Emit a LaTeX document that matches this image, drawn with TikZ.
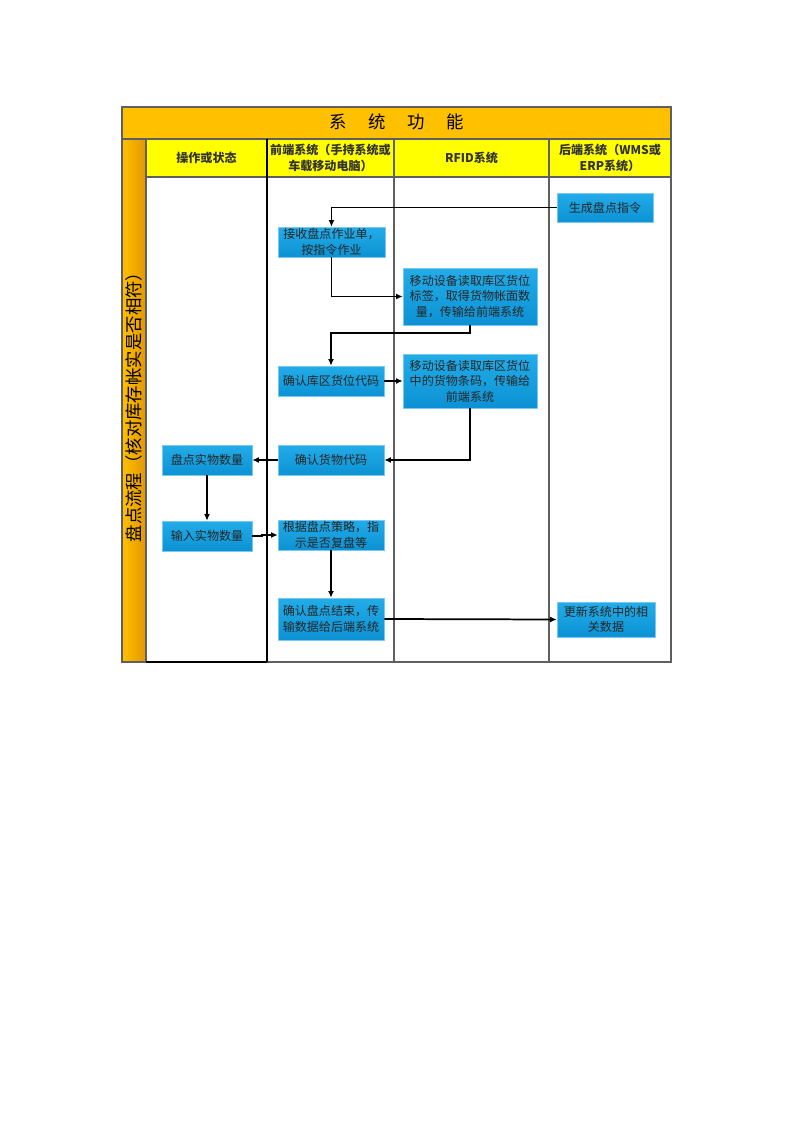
\documentclass[tikz,border=0pt]{standalone}
\usepackage{fontspec}
\setmainfont{Noto Sans CJK SC}
\usetikzlibrary{positioning, arrows.meta}
\definecolor{titlegold}{RGB}{255,192,0}
\definecolor{bandorange}{RGB}{226,150,0}
\definecolor{hdryellow}{RGB}{255,255,0}
\definecolor{boxtop}{RGB}{34,172,232}
\definecolor{boxbottom}{RGB}{12,146,212}
\definecolor{boxedge}{RGB}{120,200,240}
\definecolor{gridgray}{RGB}{95,95,95}

\begin{document}
\begin{tikzpicture}[x=0.02625cm, y=-0.02625cm, >={Latex[length=5pt,width=4.5pt]},
  pbox/.style={draw=boxedge, top color=boxtop, bottom color=boxbottom, align=center, inner sep=1pt, font=\fontsize{9}{11.6}\selectfont, text=black!85},
  sz/.style 2 args={minimum width=#1*0.02625cm, minimum height=#2*0.02625cm},
  hdr/.style={align=center, font=\bfseries\fontsize{9}{12.5}\selectfont, text=black!80},
  lane/.style={draw=gridgray, line width=1.2pt},
  flow/.style={->, line width=1.3pt}]
  \useasboundingbox (0,0) rectangle (800,1131);

  \fill[titlegold] (122,107) rectangle (671,139);
  \shade[left color=titlegold, right color=bandorange] (122,139) rectangle (146,662);
  \fill[hdryellow] (146,139) rectangle (671,177);
  \draw[lane] (122,107) rectangle (671,662);
  \draw[lane] (122,139) -- (671,139);
  \draw[lane] (146,177) -- (671,177);
  \draw[lane] (146,139) -- (146,662);
  \draw[lane] (394,139) -- (394,662);
  \draw[lane] (549,139) -- (549,662);
  \draw[lane, draw=black, line width=1.5pt] (267,139) -- (267,662);
  \draw[lane, draw=black, line width=1.5pt] (146,662) -- (267,662);

  \node[font=\fontsize{13}{13}\selectfont] (title) at (396.5,122) {系\hspace{1.25em}统\hspace{1.25em}功\hspace{1.25em}能};
  \node[rotate=90, font=\fontsize{13}{13}\selectfont] (lanename) at (134,403) {盘点流程（核对库存帐实是否相符）};

  \node[hdr] (h1) at (206.5,158) {操作或状态};
  \node[hdr] (h2) at (330.5,158) {前端系统（手持系统或\\车载移动电脑）};
  \node[hdr] (h3) at (471.5,158) {RFID系统};
  \node[hdr] (h4) at (610,158) {后端系统（WMS或\\ERP系统）};

  \node[pbox, sz={96}{29}] (gen) at (605,207.5) {生成盘点指令};
  \node[pbox, sz={107}{30}] (recv) at (331.5,242) {接收盘点作业单，\\按指令作业};
  \node[pbox, sz={134}{57}] (read1) at (470,296.5) {移动设备读取库区货位\\标签，取得货物帐面数\\量，传输给前端系统};
  \node[pbox, sz={106}{30}] (loc) at (331,381) {确认库区货位代码};
  \node[pbox, sz={134}{54}] (read2) at (470,381) {移动设备读取库区货位\\中的货物条码，传输给\\前端系统};
  \node[pbox, sz={106}{30}] (goods) at (331,460) {确认货物代码};
  \node[pbox, sz={90}{30}] (count) at (207,460) {盘点实物数量};
  \node[pbox, sz={90}{30}] (input) at (207,536) {输入实物数量};
  \node[pbox, sz={106}{30}] (strat) at (331,535) {根据盘点策略，指\\示是否复盘等};
  \node[pbox, sz={106}{42}] (done) at (331,619) {确认盘点结束，传\\输数据给后端系统};
  \node[pbox, sz={98}{35}] (upd) at (606,619.5) {更新系统中的相\\关数据};

  \draw[flow] (gen.west) -| (recv.north);
  \draw[flow] (recv.south) |- (read1.west);
  \draw[flow] (read1.south) -- ++(0,8) -| (loc.north);
  \draw[flow] (loc.east) -- (read2.west);
  \draw[flow] (read2.south) |- (goods.east);
  \draw[flow] (goods) -- (count);
  \draw[flow] (count) -- (input);
  \draw[flow] (input.east) -- ++(10,0) |- (strat.west);
  \draw[flow] (strat) -- (done);
  \draw[flow] (done.east) -- (upd.west);
\end{tikzpicture}
\end{document}
